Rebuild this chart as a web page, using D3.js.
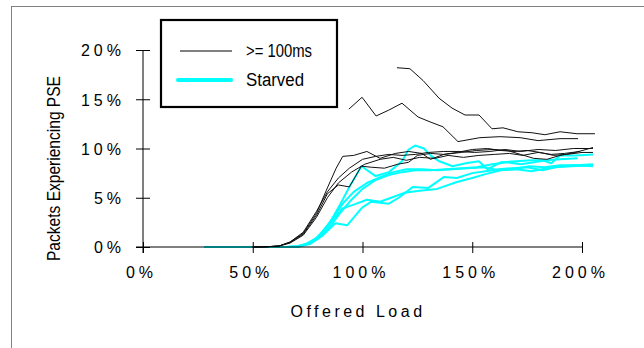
<!DOCTYPE html>
<html><head><meta charset="utf-8">
<script src="https://cdn.jsdelivr.net/npm/d3@7"></script>
<style>
html,body{margin:0;padding:0;background:#fff;}
svg{display:block;}
text{font-family:"Liberation Sans",Arial,sans-serif;fill:#000;}
</style></head>
<body>
<svg id="chart" width="644" height="348"></svg>
<script>
// ---- data (load %, PSE %) ----
const xTicks = [0, 50, 100, 150, 200];
const yTicks = [0, 5, 10, 15, 20];
const legendLabels = [">= 100ms", "Starved"];

const late1 = [[115.7,18.2],[121.6,18.1],[127.6,16.9],[134.9,15.1],[140.8,14.1],[146.7,13.4],[153.1,13.4],[159,12.0],[164,12.1],[170.8,11.7],[177.2,11.6],[183.1,11.4],[190,11.7],[197.7,11.5],[205.9,11.5]];
const late2 = [[93.8,14.0],[99.8,15.2],[106.2,13.3],[112,13.9],[118,14.6],[125.3,13.2],[130.8,12.7],[136.7,12.2],[143.5,10.7],[153.5,11.1],[162.6,11.2],[171.8,11.1],[180,10.8],[190,11.0],[198.2,11.0]];
const blackA = [[50,0],[56,0.02],[62,0.1],[67,0.5],[73,1.4],[79,3.4],[84,6.0],[88,8.0],[91,9.2],[96,9.3],[102,9.7],[108,9.0],[115,9.5],[121,9.7],[127,9.5],[131,8.9],[137,9.4],[145,9.6],[152,9.8],[159,9.9],[166,9.8],[172,9.4],[178,9.0],[184,8.9],[190,9.3],[197,9.6],[205,10.1]];
const blackB = [[50,0],[56,0.02],[62,0.1],[67,0.45],[73,1.3],[79,3.2],[84,5.4],[89,6.3],[94,6.1],[99.5,8.2],[104,8.1],[110,8.0],[116,8.4],[121,8.6],[125,9.3],[131,9.5],[137,9.4],[143,9.6],[150,9.9],[157,10.0],[163,9.8],[169,9.7],[175,9.8],[181,9.6],[187,9.3],[193,9.4],[200,9.6],[205,9.6]];
const blackC = [[50,0],[56,0.02],[62,0.1],[67,0.5],[73,1.5],[79,3.6],[84,5.6],[89,7.0],[94,8.0],[100,8.9],[106,9.2],[112,9.4],[118,9.3],[124,9.4],[130,9.6],[137,9.7],[144,9.7],[151,9.6],[158,9.7],[165,9.9],[172,9.7],[180,9.9],[188,9.8],[196,10.0],[205,10.0]];
const blackD = [[50,0],[56,0.02],[62,0.1],[67,0.4],[73,1.2],[79,3.0],[84,5.0],[89,6.5],[95,7.6],[101,8.4],[108,8.9],[114,9.1],[120,8.8],[126,9.1],[133,9.0],[139,9.3],[146,9.1],[153,9.3],[160,9.4],[167,9.5],[173,9.3],[180,9.6],[186,9.4],[192,9.5],[199,9.7]];

const starved1 = [[28,0],[65,0],[70,0.05],[74,0.3],[79,0.9],[85,2.4],[90,4.4],[94,6.1],[99.5,8.2],[106,7.2],[112,7.6],[118,8.7],[121,9.9],[124,10.3],[128,10.0],[131,9.3],[135,8.7],[141,8.2],[147,8.5],[153,8.7],[157,7.9],[163,8.6],[170,8.7],[177,8.8],[182,8.8],[186,8.5],[190,9.3],[197,9.3],[205,9.4]];
const starved2 = [[28,0],[65,0],[70,0.05],[75,0.3],[80,0.9],[85,2.0],[90,3.5],[95,4.8],[100,5.9],[106,6.8],[112,7.3],[118,7.6],[124,7.8],[131,7.8],[138,7.9],[145,8.0],[152,8.1],[159,8.4],[166,8.6],[172,8.4],[178,8.6],[184,8.8],[190,8.9],[198,9.0]];
const starved3 = [[28,0],[66,0],[71,0.05],[76,0.3],[81.5,1.1],[87.6,2.4],[93,2.2],[99.8,4.0],[104,4.6],[112,4.4],[116.5,5.0],[123,6.1],[130,6.0],[137,7.1],[143,7.0],[150,7.5],[156,7.7],[162,7.9],[168,8.0],[175,8.1],[182,7.8],[188,8.1],[195,8.2],[205,8.3]];
const starved4 = [[28,0],[66,0],[71,0.05],[76,0.4],[81,1.2],[86,2.6],[90.7,3.9],[96,4.3],[102,4.8],[108,4.6],[113,5.0],[119,5.5],[126,5.7],[134,5.9],[143,6.6],[150,7.0],[156,7.4],[163,7.8],[170,7.9],[177,7.7],[184,8.0],[190,8.2],[198,8.3],[205,8.4]];
const starved5 = [[28,0],[66,0],[71,0.05],[76,0.4],[81,1.3],[86,2.8],[91,4.4],[96,5.6],[102,6.5],[108,7.1],[114,7.6],[120,7.9],[127,7.9],[134,7.8],[141,7.9],[148,8.0],[155,8.1],[162,7.8],[169,7.9],[176,8.2],[183,8.1],[190,8.3],[197,8.3],[205,8.2]];

const blackSeries = [late1, late2, blackA, blackB, blackC, blackD];
const cyanSeries = [starved1, starved2, starved3, starved4, starved5];

// ---- layout ----
const svg = d3.select("#chart");
const x = d3.scaleLinear().domain([0, 200]).range([143, 582]);
const y = d3.scaleLinear().domain([0, 20]).range([247, 50]);

// outer frame
svg.append("rect").attr("x", 11.5).attr("y", 6.5).attr("width", 700).attr("height", 400)
  .attr("fill", "none").attr("stroke", "#808080").attr("stroke-width", 1);

const line = d3.line().x(d => x(d[0])).y(d => y(d[1]));

svg.append("g").selectAll("path").data(cyanSeries).join("path")
  .attr("d", line).attr("fill", "none").attr("stroke", "#00FFFF").attr("stroke-width", 2)
  .attr("stroke-linejoin", "round");
svg.append("g").selectAll("path").data(blackSeries).join("path")
  .attr("d", line).attr("fill", "none").attr("stroke", "#111").attr("stroke-width", 1)
  .attr("stroke-linejoin", "round");

// axes
const yAxis = svg.append("g").attr("transform", "translate(143,0)")
  .call(d3.axisLeft(y).tickValues(yTicks).tickSize(7).tickFormat(d => d + "%"));
yAxis.select(".domain").remove();
yAxis.selectAll(".tick line").attr("x1", 7).attr("x2", -7).attr("stroke", "#000");
yAxis.selectAll(".tick text").attr("x", -18).attr("dy", "0.36em")
  .style("font-size", "16px").style("letter-spacing", "4px").attr("fill", "#000");
yAxis.append("line").attr("x1", 0).attr("x2", 0).attr("y1", 50).attr("y2", 253).attr("stroke", "#000");

const xAxis = svg.append("g").attr("transform", "translate(0,247)")
  .call(d3.axisBottom(x).tickValues(xTicks).tickSize(6).tickFormat(d => d + "%"));
xAxis.select(".domain").remove();
xAxis.selectAll(".tick line").attr("y1", -5).attr("y2", 6).attr("stroke", "#000");
xAxis.selectAll(".tick text").attr("y", 20).attr("dy", "0.71em").attr("dx", -2)
  .style("font-size", "16px").style("letter-spacing", "4px").attr("fill", "#000");
xAxis.append("line").attr("x1", 136).attr("x2", 582).attr("y1", 0).attr("y2", 0).attr("stroke", "#000");
svg.selectAll(".tick text").attr("font-family", null);

// axis titles
svg.append("text").attr("x", 358).attr("y", 317).attr("text-anchor", "middle")
  .style("font-size", "16px").style("letter-spacing", "3.5px").text("Offered Load");
svg.append("text").attr("transform", "translate(60,168.5) rotate(-90)").attr("text-anchor", "middle")
  .attr("textLength", 185).attr("lengthAdjust", "spacingAndGlyphs")
  .style("font-size", "18px").text("Packets Experiencing PSE");

// legend
const lg = svg.append("g");
lg.append("rect").attr("x", 161).attr("y", 20).attr("width", 176).attr("height", 87)
  .attr("fill", "#fff").attr("stroke", "#000").attr("stroke-width", 2.2);
lg.append("line").attr("x1", 180).attr("x2", 232).attr("y1", 51).attr("y2", 51)
  .attr("stroke", "#000").attr("stroke-width", 1);
lg.append("line").attr("x1", 178).attr("x2", 231).attr("y1", 80).attr("y2", 80)
  .attr("stroke", "#00FFFF").attr("stroke-width", 4).attr("stroke-linecap", "round");
lg.append("text").attr("x", 246).attr("y", 57).style("font-size", "18px")
  .attr("textLength", 66).attr("lengthAdjust", "spacingAndGlyphs").text(legendLabels[0]);
lg.append("text").attr("x", 246).attr("y", 86).style("font-size", "18px")
  .attr("textLength", 58).attr("lengthAdjust", "spacingAndGlyphs").text(legendLabels[1]);
</script>
</body></html>
